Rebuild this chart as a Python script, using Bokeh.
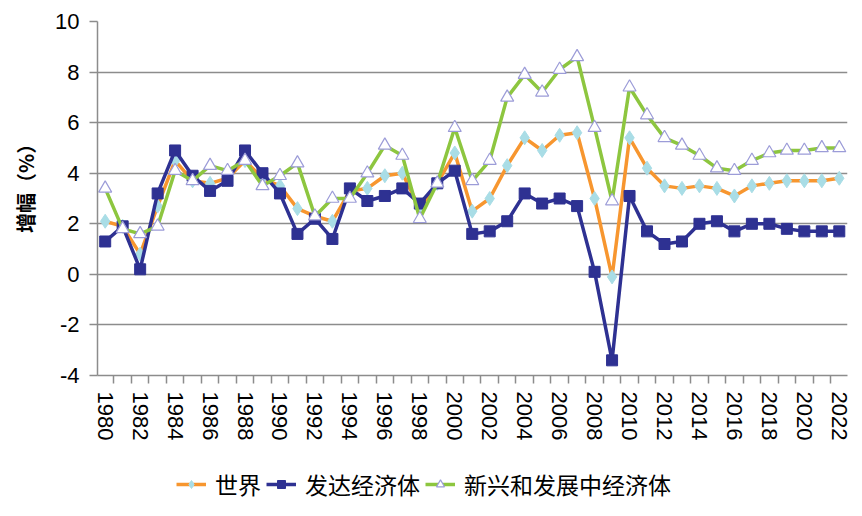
from bokeh.plotting import figure
from bokeh.models import Range1d, FixedTicker, Legend, LegendItem
from bokeh.layouts import column
from bokeh.embed import file_html
from bokeh.resources import INLINE

years = list(range(1980, 2023))
world = [2.1, 1.9, 0.8, 2.7, 4.5, 3.7, 3.6, 3.8, 4.5, 3.8, 3.5, 2.6, 2.3, 2.1, 3.3,
         3.4, 3.9, 4.0, 2.6, 3.6, 4.8, 2.5, 3.0, 4.3, 5.4, 4.9, 5.5, 5.6, 3.0, -0.1,
         5.4, 4.2, 3.5, 3.4, 3.5, 3.4, 3.1, 3.5, 3.6, 3.7, 3.7, 3.7, 3.8]
advanced = [1.3, 1.9, 0.2, 3.2, 4.9, 3.9, 3.3, 3.7, 4.9, 4.0, 3.2, 1.6, 2.2, 1.4, 3.4,
            2.9, 3.1, 3.4, 2.8, 3.6, 4.1, 1.6, 1.7, 2.1, 3.2, 2.8, 3.0, 2.7, 0.1, -3.4,
            3.1, 1.7, 1.2, 1.3, 2.0, 2.1, 1.7, 2.0, 2.0, 1.8, 1.7, 1.7, 1.7]
emerging = [3.4, 1.8, 1.6, 1.9, 4.1, 3.7, 4.3, 4.1, 4.5, 3.5, 3.9, 4.4, 2.3, 3.0, 3.0,
            4.0, 5.1, 4.7, 2.2, 3.6, 5.8, 3.7, 4.5, 7.0, 7.9, 7.2, 8.1, 8.6, 5.8, 2.9,
            7.4, 6.3, 5.4, 5.1, 4.7, 4.2, 4.1, 4.5, 4.8, 4.9, 4.9, 5.0, 5.0]
y_ticks = [-4, -2, 0, 2, 4, 6, 8, 10]
x_ticks = list(range(1980, 2023, 2))
labels = ["世界", "发达经济体", "新兴和发展中经济体"]

styles = [
    dict(line_color="#F7962F", marker="diamond", size=14, fill_color="#A9DDE6", mline="#A9DDE6", mw=1),
    dict(line_color="#2E3192", marker="square", size=11, fill_color="#2E3192", mline="#2E3192", mw=1),
    dict(line_color="#8DC63F", marker="triangle", size=13, fill_color="white", mline="#9C9CD8", mw=1.2),
]

p = figure(width=854, height=453, output_backend="svg", toolbar_location=None,
           x_range=Range1d(1979.56, 2022.47), y_range=Range1d(-4, 10),
           min_border_left=97, min_border_right=7, min_border_top=21, min_border_bottom=78)
p.outline_line_color = None
p.background_fill_color = "white"
p.border_fill_color = "white"

p.xgrid.grid_line_color = None
p.ygrid.grid_line_color = "#8C8C8C"
p.ygrid.grid_line_width = 1.5
p.ygrid.ticker = FixedTicker(ticks=y_ticks)

ya = p.yaxis[0]
ya.ticker = FixedTicker(ticks=y_ticks)
ya.major_label_overrides = {t: str(t) for t in y_ticks}
ya.axis_line_color = "#8C8C8C"
ya.axis_line_width = 1.5
ya.major_tick_line_color = "#8C8C8C"
ya.major_tick_line_width = 1.5
ya.major_tick_out = 8
ya.major_tick_in = 0
ya.minor_tick_line_color = None
ya.major_label_text_font = "Liberation Sans"
ya.major_label_text_font_size = "22px"
ya.major_label_text_color = "black"
ya.major_label_standoff = 10
ya.axis_label = "\u3000\u2002增幅（%）"
ya.axis_label_text_font = "Noto Sans CJK SC"
ya.axis_label_text_font_size = "20px"
ya.axis_label_text_font_style = "bold"
ya.axis_label_text_color = "black"
ya.axis_label_standoff = 12

xa = p.xaxis[0]
xa.ticker = FixedTicker(ticks=x_ticks, minor_ticks=[y - 0.5 for y in range(1980, 2024)])
xa.axis_line_color = "#8C8C8C"
xa.axis_line_width = 1.5
xa.major_tick_line_color = None
xa.major_tick_out = 0
xa.major_tick_in = 0
xa.minor_tick_line_color = "#8C8C8C"
xa.minor_tick_line_width = 1.5
xa.minor_tick_out = 8
xa.minor_tick_in = 0
xa.major_label_orientation = "vertical"
xa.major_label_text_font = "Liberation Sans"
xa.major_label_text_font_size = "22px"
xa.major_label_text_color = "black"
xa.major_label_standoff = 8

for vals, st in zip([world, advanced, emerging], styles):
    p.line(years, vals, line_color=st["line_color"], line_width=3.5)
    p.scatter(years, vals, marker=st["marker"], size=st["size"], fill_color=st["fill_color"],
              line_color=st["mline"], line_width=st["mw"])

# legend strip below the chart
q = figure(width=854, height=55, output_backend="svg", toolbar_location=None,
           x_range=Range1d(0, 1), y_range=Range1d(0, 1),
           min_border_left=0, min_border_right=0, min_border_top=0, min_border_bottom=0)
q.axis.visible = False
q.grid.grid_line_color = None
q.outline_line_color = None
items = []
for lab, st in zip(labels, styles):
    rl = q.line([-5, -4], [-5, -5], line_color=st["line_color"], line_width=3.5)
    rm = q.scatter([-5], [-5], marker=st["marker"], size=st["size"] - 2, fill_color=st["fill_color"],
                   line_color=st["mline"], line_width=st["mw"])
    items.append(LegendItem(label=lab, renderers=[rl, rm]))

legend = Legend(items=items, orientation="horizontal", location=(79, 7))
legend.border_line_color = None
legend.background_fill_alpha = 0
legend.padding = 0
legend.margin = 0
legend.spacing = 5
legend.glyph_width = 30
legend.label_standoff = 9
legend.label_text_font = "Noto Sans CJK SC"
legend.label_text_font_size = "23px"
legend.label_text_color = "black"
q.add_layout(legend, "center")

layout = column(p, q, spacing=0)
open("out.html", "w").write(file_html(layout, INLINE))
